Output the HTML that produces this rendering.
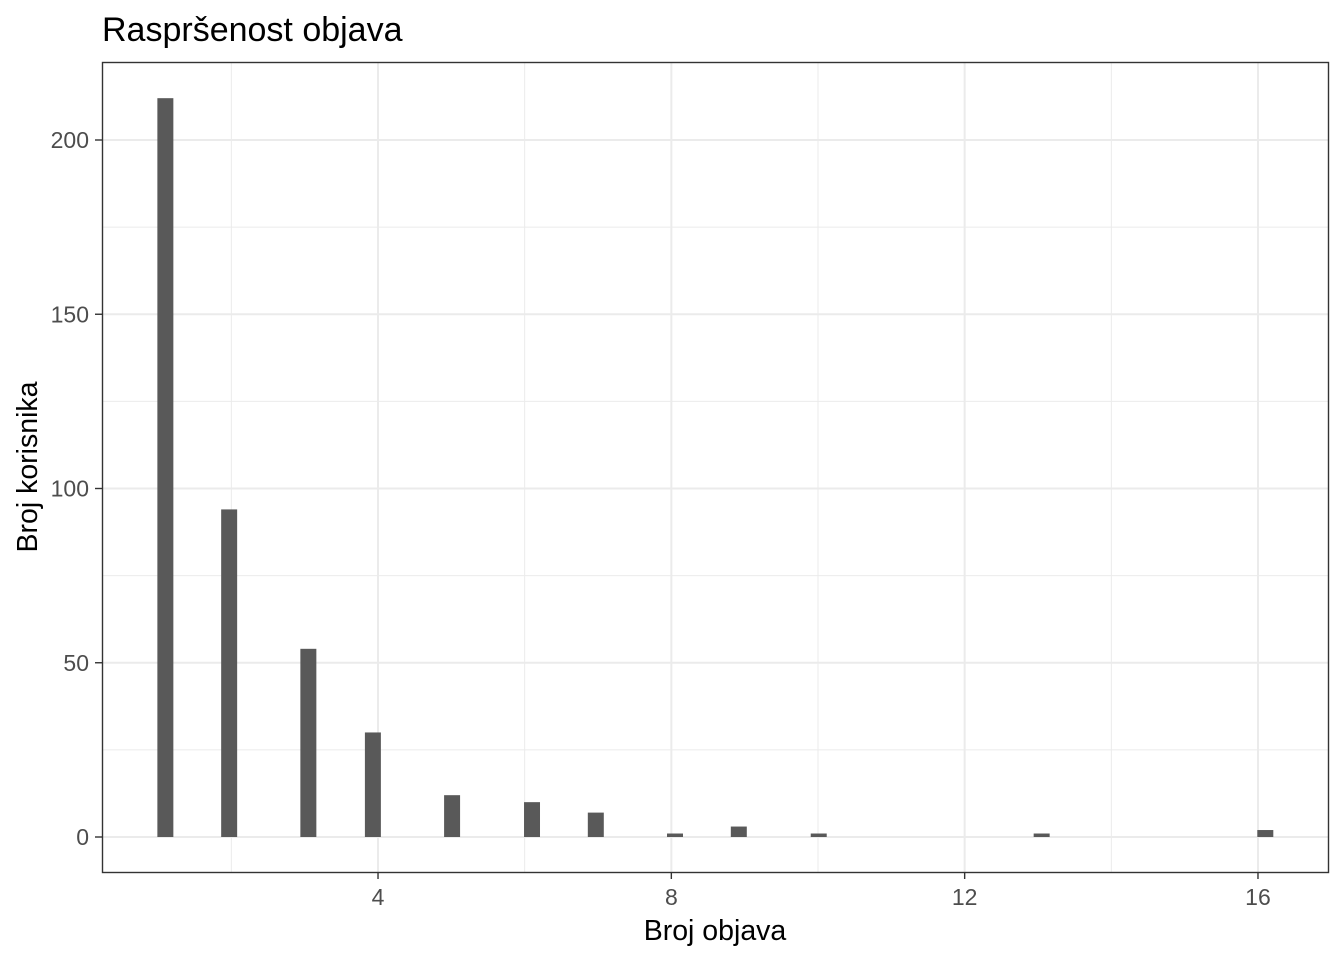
<!DOCTYPE html>
<html><head><meta charset="utf-8"><style>
body{margin:0;background:#fff;}
svg{display:block;font-family:"Liberation Sans",Arial,sans-serif;}
</style></head><body>
<svg id="chart" width="1344" height="960">
<text x="102" y="41" font-size="34" fill="#000">Raspršenost objava</text>
<g id="grid"></g>
<g id="bars"></g>
<g id="axes"></g>
<rect x="102.5" y="62.5" width="1226" height="810" fill="none" stroke="#333" stroke-width="1.4"/>
<text x="715" y="940" font-size="28.5" text-anchor="middle" fill="#000">Broj objava</text>
<text transform="translate(37,467) rotate(-90)" font-size="28.5" text-anchor="middle" fill="#000">Broj korisnika</text>
</svg>
<script>
const binCenters=[1.1,1.97,3.05,3.93,5.01,6.1,6.97,8.05,8.92,10.01,13.05,16.1];
const counts=[212,94,54,30,12,10,7,1,3,1,1,2];
const xTicks=[4,8,12,16];
const xMinor=[2,6,10,14];
const yTicks=[0,50,100,150,200];
const yMinor=[25,75,125,175];
const binWidth=0.218;
const NS="http://www.w3.org/2000/svg";
const X=v=>84.7+v*73.33;
const Y=v=>837-v*3.485;
function mk(tag,attrs,parent){const e=document.createElementNS(NS,tag);for(const k in attrs)e.setAttribute(k,attrs[k]);document.getElementById(parent).appendChild(e);return e;}
xMinor.forEach(v=>{const l=mk('line',{x1:X(v),x2:X(v),y1:62,y2:872,stroke:'#ebebeb','stroke-width':1},'grid');

});
yMinor.forEach(v=>{const l=mk('line',{x1:102,x2:1329,y1:Y(v),y2:Y(v),stroke:'#ebebeb','stroke-width':1},'grid');

});
xTicks.forEach(v=>{const l=mk('line',{x1:X(v),x2:X(v),y1:62,y2:872,stroke:'#ebebeb','stroke-width':2},'grid');


const t=mk('line',{x1:X(v),x2:X(v),y1:872,y2:879,stroke:'#333','stroke-width':1.4},'axes');


const tx=mk('text',{x:X(v),y:905,'font-size':23,'text-anchor':'middle',fill:'#4d4d4d'},'axes');tx.textContent=v;

});
yTicks.forEach(v=>{const l=mk('line',{x1:102,x2:1329,y1:Y(v),y2:Y(v),stroke:'#ebebeb','stroke-width':2},'grid');


const t=mk('line',{x1:95,x2:102,y1:Y(v),y2:Y(v),stroke:'#333','stroke-width':1.4},'axes');


const tx=mk('text',{x:89,y:Y(v)+8,'font-size':23,'text-anchor':'end',fill:'#4d4d4d'},'axes');tx.textContent=v;

});
binCenters.forEach((c,i)=>{const w=binWidth*73.33;
const r=mk('rect',{x:X(c)-w/2,y:Y(counts[i]),width:w,height:Y(0)-Y(counts[i]),fill:'#595959'},'bars');

});
</script>
</body></html>
